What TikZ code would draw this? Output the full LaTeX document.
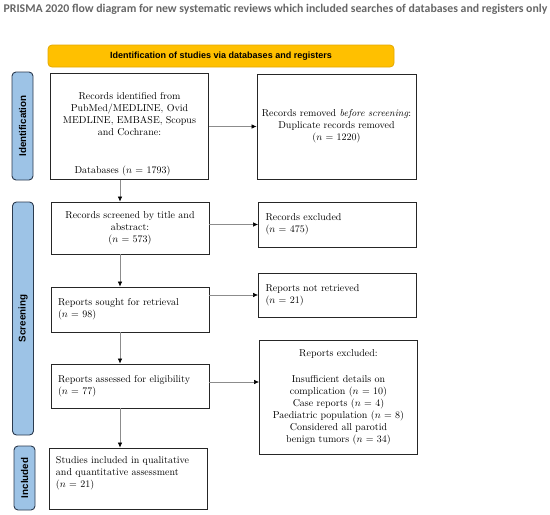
\documentclass[tikz,border=0pt]{standalone}
\usepackage{fontspec}
\newfontfamily\titlefont{Carlito}
\newfontfamily\barfont{Liberation Sans}
\usetikzlibrary{arrows.meta}

\definecolor{prismayellow}{HTML}{FFC000}
\definecolor{prismaedge}{HTML}{E3A800}
\definecolor{prismablue}{HTML}{9DC3E6}
\definecolor{prismanavy}{HTML}{2B3A4E}

\begin{document}
\begin{tikzpicture}[x=1pt, y=-1pt,
    box/.style={draw=black!85, line width=0.9pt, font=\fontsize{10}{12}\selectfont,
        text width=144pt, inner xsep=7pt, inner ysep=3pt},
    sidebar/.style={draw=prismanavy, fill=prismablue, line width=0.9pt, rounded corners=4pt,
        rotate=90, minimum height=21pt, inner sep=0pt, font=\barfont\bfseries\fontsize{9.8}{11}\selectfont},
    flow/.style={draw=black!45, line width=0.6pt, -{Latex[length=5pt,width=4.5pt,color=black]}}]

    \useasboundingbox (0,0) rectangle (550,515);

    % Titre
    \node[text=black!60, font=\titlefont\bfseries\fontsize{11.8}{13}\selectfont] (title) at (275.5,9)
        {PRISMA 2020 flow diagram for new systematic reviews which included searches of databases and registers only};

    % Bandeau jaune
    \node[draw=prismaedge, fill=prismayellow, line width=0.8pt, rounded corners=4pt,
        minimum width=346pt, minimum height=22pt, inner sep=0pt,
        font=\barfont\bfseries\fontsize{9}{10}\selectfont] (head) at (221,56)
        {Identification of studies via databases and registers};

    % Bandes laterales
    \node[sidebar, minimum width=108pt] (sideid) at (22.5,126) {Identification};
    \node[sidebar, minimum width=233pt] (sidescr) at (23,318.5) {Screening};
    \node[sidebar, minimum width=64pt] (sideinc) at (24.5,478) {Included};

    % Colonne de gauche
    \node[box, minimum height=105pt, align=center] (ident) at (129.5,126.5)
        {\rule{0pt}{23pt}Records identified from\\PubMed/MEDLINE, Ovid\\MEDLINE, EMBASE, Scopus\\and Cochrane:\par
        \vspace{26pt}\raggedright\noindent\hspace*{17pt}Databases ($n$ = 1793)\par};
    \node[box, minimum height=52pt, align=center] (screened) at (130,228)
        {Records screened by title and\\abstract:\\($n$ = 573)};
    \node[box, minimum height=45pt, align=left] (sought) at (130,309.5)
        {Reports sought for retrieval\\($n$ = 98)};
    \node[box, minimum height=44pt, align=left] (assessed) at (130,386)
        {Reports assessed for eligibility\\($n$ = 77)};
    \node[box, minimum height=61pt, align=left] (included) at (128,478.5)
        {Studies included in qualitative\\and quantitative assessment\\($n$ = 21)\rule[-14pt]{0pt}{14pt}};

    % Colonne de droite
    \node[box, minimum height=105pt, align=center, text width=151pt, inner xsep=4pt] (removed) at (336.5,126.5)
        {Records removed \textit{before screening}:\\Duplicate records removed\\($n$ = 1220)};
    \node[box, minimum height=45pt, align=left] (excluded) at (337.5,224.5)
        {Records excluded\\($n$ = 475)};
    \node[box, minimum height=44pt, align=left] (notretr) at (337.5,295)
        {Reports not retrieved\\($n$ = 21)};
    \node[box, minimum height=114pt, align=center] (repexcl) at (338.5,397)
        {Reports excluded:\\[14pt]Insufficient details on\\complication ($n$ = 10)\\Case reports ($n$ = 4)\\
        Paediatric population ($n$ = 8)\\Considered all parotid\\benign tumors ($n$ = 34)};

    % Fleches verticales
    \coordinate (spine) at (120,0);
    \draw[flow] (ident.south -| spine) -- (screened.north -| spine);
    \draw[flow] (screened.south -| spine) -- (sought.north -| spine);
    \draw[flow] (sought.south -| spine) -- (assessed.north -| spine);
    \draw[flow] (assessed.south -| spine) -- (included.north -| spine);

    % Fleches horizontales
    \draw[flow] (ident.east) -- (removed.west);
    \draw[flow] (screened.east |- excluded.west) -- (excluded.west);
    \draw[flow] (sought.east |- notretr.west) -- (notretr.west);
    \coordinate (elig) at ([yshift=4pt]assessed.east);
    \draw[flow] (elig) -- (elig -| repexcl.west);
\end{tikzpicture}
\end{document}
